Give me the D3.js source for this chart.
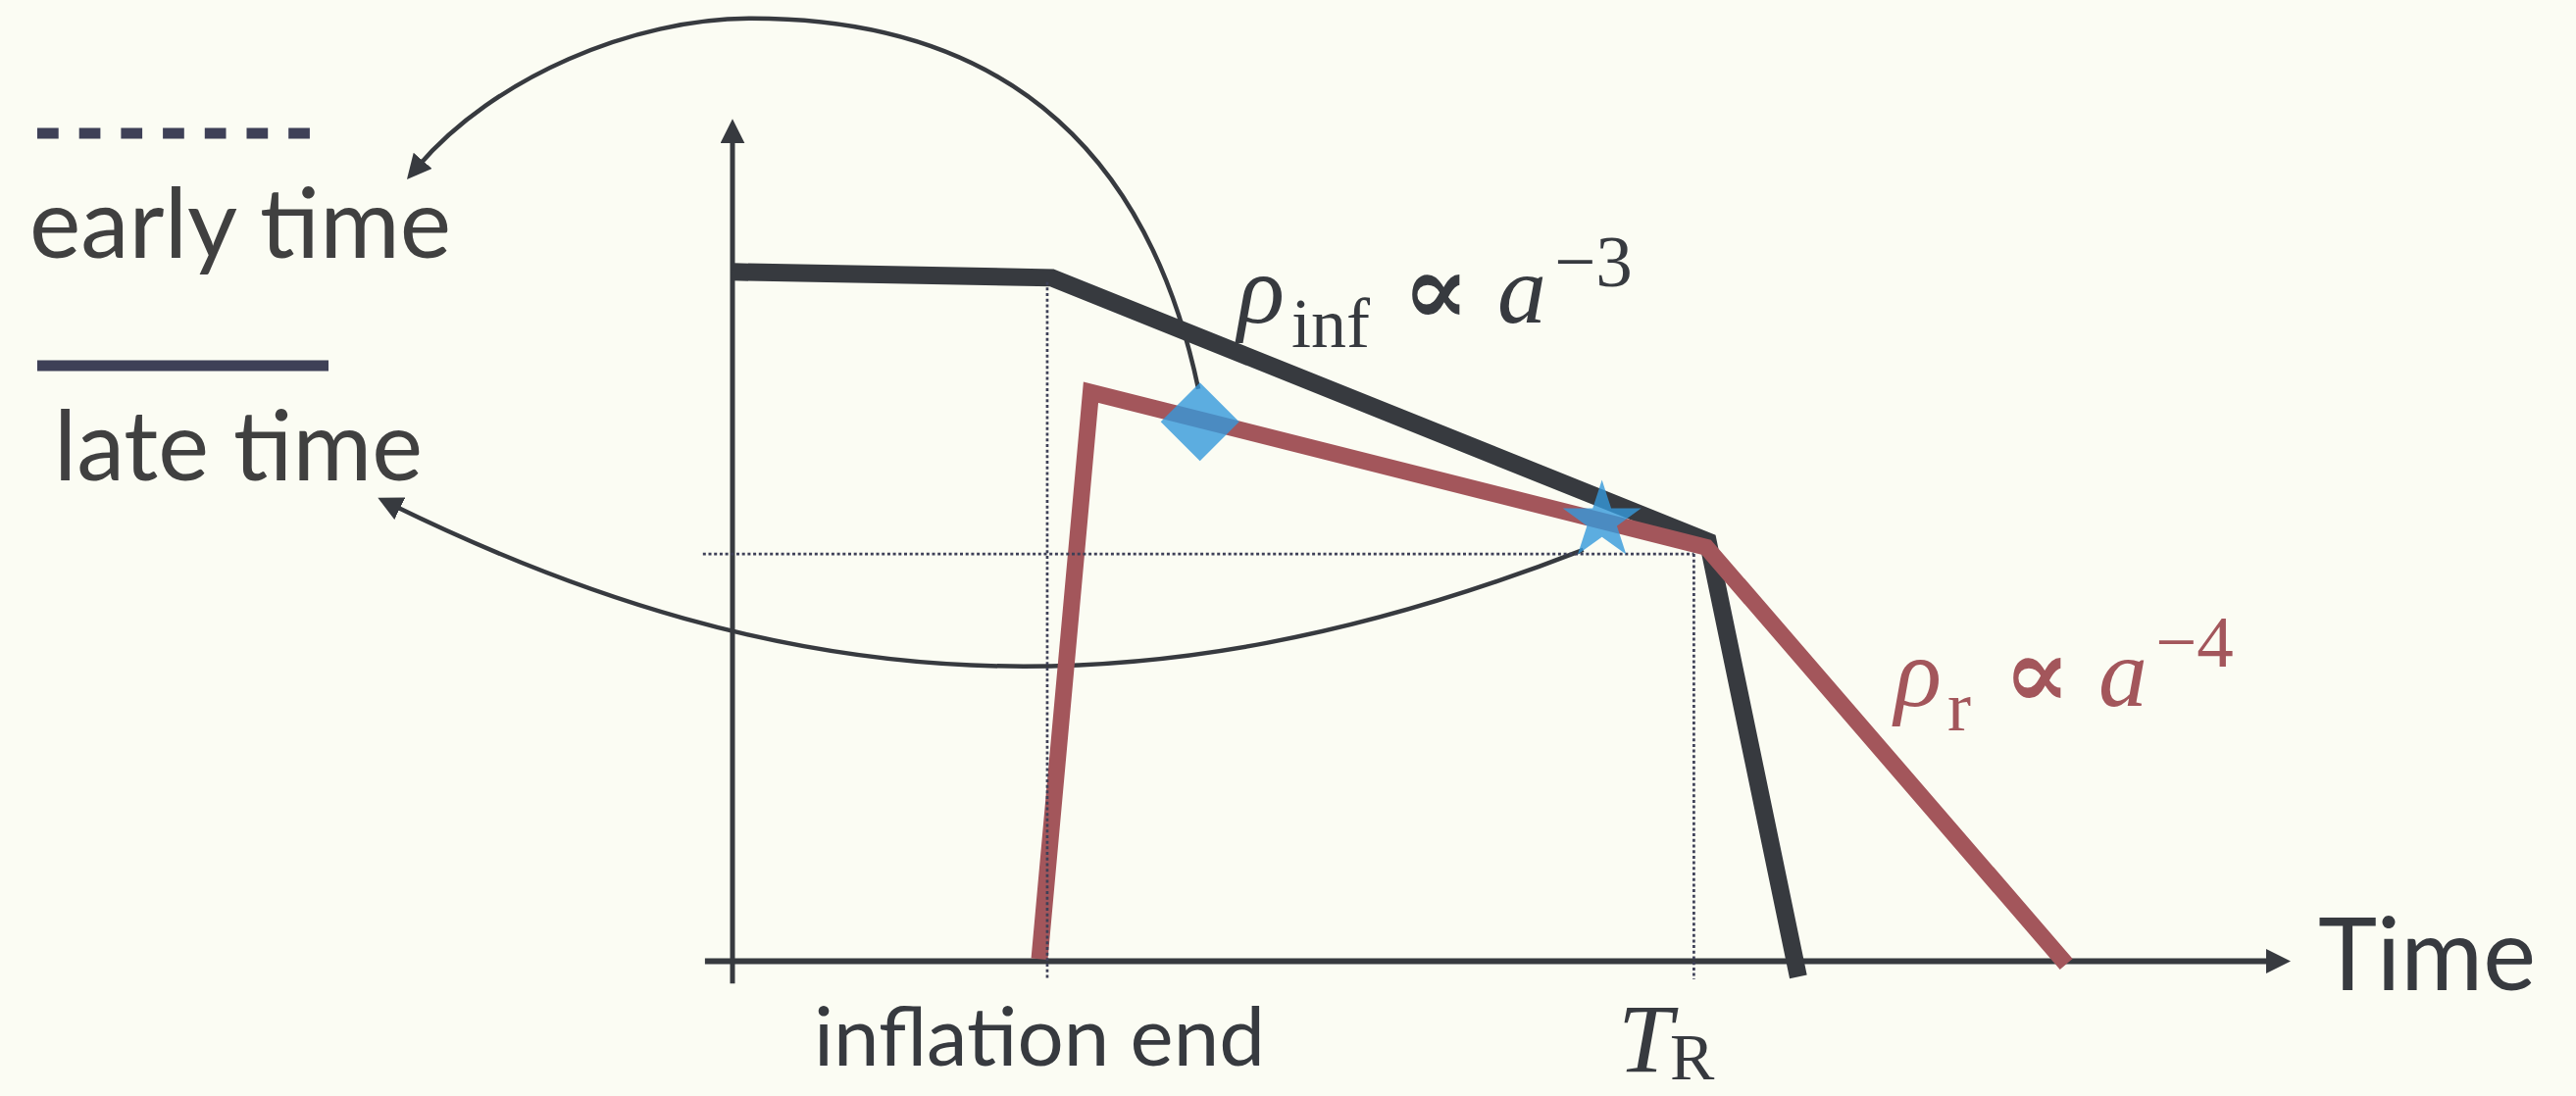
<!DOCTYPE html>
<html>
<head>
<meta charset="utf-8">
<script src="https://cdn.jsdelivr.net/npm/d3@7"></script>
<style>
  html, body { margin: 0; padding: 0; background: #fbfcf3; }
  svg { display: block; }
</style>
</head>
<body>
<div class="Density-Chart"></div>
<script>
// Size of the picture and where the schematic axes sit
const WIDTH = 2627;
const HEIGHT = 1118;

// Schematic values (time, log energy density), both on a 0..100 scale
const inflatonTime = [0, 20.5, 62.6, 68.4];
const inflatonRho = [81.8, 81.1, 49.8, -1.9];
const radiationTime = [19.7, 23.0, 62.5, 85.6];
const radiationRho = [0.2, 67.5, 49.1, -0.4];

// Guide lines: inflation end and reheating time T_R
const guideTimes = [20.2, 61.7];
const guideTops = [80.6, 48.3];
const reheatRho = 48.3;

// Blue markers on the radiation curve
const markerTime = [30.0, 55.8];
const markerRho = [64.0, 52.2];
const markerShape = ["diamond", "star"];

// Annotation arrows, as chains of cubic curves (start, then c1, c2, end per piece)
const earlyArc = [
  [29.9, 67.9],
  [26.9, 94.3], [18.4, 111.9], [1.2, 111.9],
  [-6.4, 111.9], [-15.3, 104.9], [-20.2, 94.3],
];
const lateArc = [
  [54.6, 48.8],
  [26.2, 28.3], [3.7, 31.0], [-21.8, 54.1],
];

const legendLabels = ["early time", "late time"];

// Colours
const INK = "#373a3f";
const NAVY = "#3e4057";
const RED = "#a3565b";
const BLUE = "#3498db";

var x = d3.scaleLinear().domain([0, 100]).range([747, 2336]);
var y = d3.scaleLinear().domain([0, 100]).range([980, 121]);

var svg = d3
  .select(".Density-Chart")
  .append("svg")
  .attr("width", WIDTH)
  .attr("height", HEIGHT)
  .style("background", "#fbfcf3");

// arrow head used by the axes and the curved arrows
var defs = svg.append("defs");
defs
  .append("marker")
  .attr("id", "head")
  .attr("markerUnits", "userSpaceOnUse")
  .attr("viewBox", "0 -12.5 25 25")
  .attr("markerWidth", 25)
  .attr("markerHeight", 25)
  .attr("refX", 8)
  .attr("refY", 0)
  .attr("orient", "auto")
  .append("path")
  .attr("d", "M0,-12.5L25,0L0,12.5Z")
  .attr("fill", INK);

// ---- axes (no ticks, just the domain lines with arrows) ----
var xAxisScale = x.copy().domain([-1.8, 98.9]).range([x(-1.8), x(98.9)]);
svg
  .append("g")
  .attr("id", "xAxis")
  .attr("transform", `translate(0,${y(0)})`)
  .call(d3.axisBottom(xAxisScale).tickValues([]).tickSizeOuter(0))
  .call((g) =>
    g
      .select(".domain")
      .attr("stroke", INK)
      .attr("stroke-width", 6)
      .attr("marker-end", "url(#head)")
  );

var yAxisScale = y.copy().domain([-2.7, 98.0]).range([y(-2.7), y(98.0)]);
svg
  .append("g")
  .attr("id", "yAxis")
  .attr("transform", `translate(${x(0)},0)`)
  .call(d3.axisLeft(yAxisScale).tickValues([]).tickSizeOuter(0))
  .call((g) =>
    g
      .select(".domain")
      .attr("d", `M0,${y(-2.7)}V${y(98.0)}`)
      .attr("stroke", INK)
      .attr("stroke-width", 5)
      .attr("marker-end", "url(#head)")
  );

// ---- curved arrows from the markers to the legend ----
function arcPath(pts) {
  var p = d3.path();
  p.moveTo(x(pts[0][0]), y(pts[0][1]));
  for (var i = 1; i + 2 < pts.length; i += 3) {
    p.bezierCurveTo(
      x(pts[i][0]), y(pts[i][1]),
      x(pts[i + 1][0]), y(pts[i + 1][1]),
      x(pts[i + 2][0]), y(pts[i + 2][1])
    );
  }
  return p.toString();
}

svg
  .selectAll(".arc")
  .data([earlyArc, lateArc])
  .join("path")
  .attr("class", "arc")
  .attr("d", arcPath)
  .attr("fill", "none")
  .attr("stroke", INK)
  .attr("stroke-width", 4.5)
  .attr("marker-end", "url(#head)");

// ---- the two density curves ----
var lineValue = d3
  .line()
  .x((d) => x(d[0]))
  .y((d) => y(d[1]));

var inflaton = d3.zip(inflatonTime, inflatonRho);
var radiation = d3.zip(radiationTime, radiationRho);

svg
  .append("path")
  .datum(inflaton)
  .attr("d", lineValue)
  .attr("fill", "none")
  .attr("stroke", INK)
  .attr("stroke-width", 18)
  .attr("stroke-linejoin", "miter")
  .attr("stroke-miterlimit", 20);

svg
  .append("path")
  .datum(radiation)
  .attr("d", lineValue)
  .attr("fill", "none")
  .attr("stroke", RED)
  .attr("stroke-width", 17)
  .attr("stroke-linejoin", "miter")
  .attr("stroke-miterlimit", 20);

// ---- dotted guides ----
svg
  .selectAll(".guideV")
  .data(guideTimes)
  .join("line")
  .attr("class", "guideV")
  .attr("x1", (d) => x(d))
  .attr("x2", (d) => x(d))
  .attr("y1", (d, i) => y(guideTops[i]))
  .attr("y2", y(-2.2))
  .attr("stroke", NAVY)
  .attr("stroke-width", 2.7)
  .attr("stroke-dasharray", "3,2.7");

svg
  .append("line")
  .attr("x1", x(-1.9))
  .attr("x2", x(guideTimes[1]))
  .attr("y1", y(reheatRho))
  .attr("y2", y(reheatRho))
  .attr("stroke", NAVY)
  .attr("stroke-width", 2.7)
  .attr("stroke-dasharray", "3,2.7");

// ---- blue markers ----
svg
  .selectAll(".marker")
  .data(markerTime)
  .join("path")
  .attr("class", "marker")
  .attr("d", (d, i) =>
    markerShape[i] === "star"
      ? d3.symbol(d3.symbolStar, 1980)()
      : d3.symbol(d3.symbolSquare, 3200)()
  )
  .attr(
    "transform",
    (d, i) =>
      `translate(${x(d)},${y(markerRho[i])}) rotate(${markerShape[i] === "star" ? 0 : 45})`
  )
  .attr("fill", BLUE)
  .attr("fill-opacity", 0.8);

// ---- text ----
function fitWidth(sel, w) {
  var len = sel.node().getComputedTextLength();
  var fs = parseFloat(sel.attr("font-size"));
  sel.attr("font-size", (fs * w) / len);
}

var SANS = "Lato, 'Open Sans', sans-serif";
var SERIF = "'Liberation Serif', 'DejaVu Serif', serif";
var PROP = "'DejaVu Serif', serif";

// legend
svg
  .append("line")
  .attr("x1", 38).attr("x2", 316)
  .attr("y1", 136).attr("y2", 136)
  .attr("stroke", NAVY)
  .attr("stroke-width", 11)
  .attr("stroke-dasharray", "21.7,21");

svg
  .append("line")
  .attr("x1", 38).attr("x2", 335)
  .attr("y1", 373).attr("y2", 373)
  .attr("stroke", NAVY)
  .attr("stroke-width", 11);

var early = svg
  .append("text")
  .attr("x", 30).attr("y", 263)
  .attr("font-family", SANS)
  .attr("font-size", 100)
  .attr("fill", "#404040")
  .text(legendLabels[0]);
fitWidth(early, 430);

var late = svg
  .append("text")
  .attr("x", 55).attr("y", 490)
  .attr("font-family", SANS)
  .attr("font-size", 100)
  .attr("fill", "#404040")
  .text(legendLabels[1]);
fitWidth(late, 376);

var timeLabel = svg
  .append("text")
  .attr("x", 2364).attr("y", 1010)
  .attr("font-family", SANS)
  .attr("font-size", 95)
  .attr("fill", INK)
  .text("Time");
fitWidth(timeLabel, 222);

var endLabel = svg
  .append("text")
  .attr("x", 830).attr("y", 1087)
  .attr("font-family", SANS)
  .attr("font-size", 85)
  .attr("fill", INK)
  .text("inflation end");
fitWidth(endLabel, 460);

// rho_inf ∝ a^-3
var lab1 = svg
  .append("text")
  .attr("font-family", SERIF)
  .attr("fill", INK);
lab1.append("tspan").attr("x", 1262).attr("y", 329).attr("font-size", 100)
  .attr("font-style", "italic").text("ρ");
lab1.append("tspan").attr("x", 1317).attr("y", 354).attr("font-size", 72).text("inf");
lab1.append("tspan").attr("x", 1430).attr("y", 331).attr("font-size", 102)
  .attr("font-family", PROP).attr("font-weight", "bold").text("∝");
lab1.append("tspan").attr("x", 1527).attr("y", 329).attr("font-size", 100)
  .attr("font-style", "italic").text("a");
lab1.append("tspan").attr("x", 1585).attr("y", 292).attr("font-size", 75).text("−3");

// rho_r ∝ a^-4
var lab2 = svg
  .append("text")
  .attr("font-family", SERIF)
  .attr("fill", RED);
lab2.append("tspan").attr("x", 1932).attr("y", 720).attr("font-size", 100)
  .attr("font-style", "italic").text("ρ");
lab2.append("tspan").attr("x", 1986).attr("y", 745).attr("font-size", 72).text("r");
lab2.append("tspan").attr("x", 2043).attr("y", 722).attr("font-size", 102)
  .attr("font-family", PROP).attr("font-weight", "bold").text("∝");
lab2.append("tspan").attr("x", 2140).attr("y", 720).attr("font-size", 100)
  .attr("font-style", "italic").text("a");
lab2.append("tspan").attr("x", 2198).attr("y", 680).attr("font-size", 75).text("−4");

// T_R under the axis
var lab3 = svg
  .append("text")
  .attr("font-family", SERIF)
  .attr("fill", INK);
lab3.append("tspan").attr("x", 1650).attr("y", 1093).attr("font-size", 100)
  .attr("font-style", "italic").text("T");
lab3.append("tspan").attr("x", 1703).attr("y", 1101).attr("font-size", 68).text("R");
</script>
</body>
</html>
